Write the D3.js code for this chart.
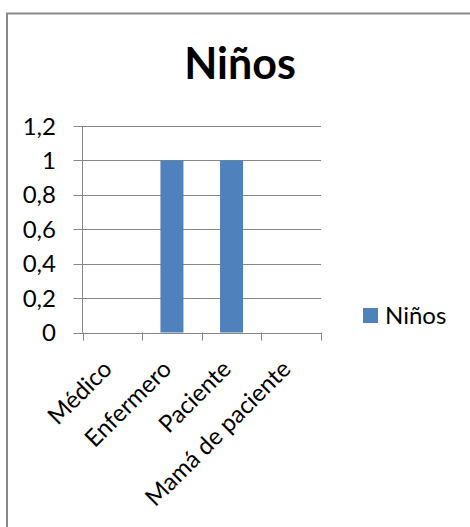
<!DOCTYPE html>
<html>
<head>
<meta charset="utf-8">
<script src="https://cdn.jsdelivr.net/npm/d3@7"></script>
<style>
  html, body { margin: 0; padding: 0; background: #fff; }
  svg { display: block; }
  text { font-family: Lato, "Open Sans", sans-serif; fill: #000; }
</style>
</head>
<body>
<svg id="chart" width="470" height="527"></svg>
<script>
// Chart data
const title = "Niños";
const seriesName = "Niños";
const categories = ["Médico", "Enfermero", "Paciente", "Mamá de paciente"];
const values = [0, 1, 1, 0];
const yTicks = [0, 0.2, 0.4, 0.6, 0.8, 1, 1.2];

const svg = d3.select("#chart");
const barColor = "#4f81bd";
const gridColor = "#868686";

// Outer chart frame
svg.append("rect")
  .attr("x", 7).attr("y", 13.5)
  .attr("width", 480).attr("height", 530)
  .attr("fill", "none").attr("stroke", "#888").attr("stroke-width", 2);

svg.append("text")
  .attr("x", 240).attr("y", 79)
  .attr("text-anchor", "middle")
  .style("font-size", "43px").style("font-weight", "bold")
  .text(title);

const plot = { left: 82.5, right: 321, top: 126, bottom: 332.5 };

const x = d3.scaleBand().domain(categories).range([plot.left, plot.right]);
const y = d3.scaleLinear().domain([0, 1.2]).range([plot.bottom, plot.top]);

// Horizontal gridlines with left tick stubs
svg.append("g").selectAll("line").data(yTicks).join("line")
  .attr("x1", plot.left - 9).attr("x2", plot.right)
  .attr("y1", d => Math.round(y(d)) + 0.5).attr("y2", d => Math.round(y(d)) + 0.5)
  .attr("stroke", gridColor).attr("stroke-width", 1);

// Value axis line
svg.append("line")
  .attr("x1", plot.left).attr("x2", plot.left)
  .attr("y1", plot.top).attr("y2", plot.bottom)
  .attr("stroke", gridColor);

// Y tick labels
const fmt = d => d3.format("~g")(d).replace(".", ",");
svg.append("g").selectAll("text").data(yTicks).join("text")
  .attr("x", 56).attr("y", d => y(d))
  .attr("dy", "0.36em")
  .attr("text-anchor", "end")
  .style("font-size", "24px")
  .text(fmt);

// Bars
const barW = x.bandwidth() * 0.386;
svg.append("g").selectAll("rect").data(categories).join("rect")
  .attr("x", d => x(d) + (x.bandwidth() - barW) / 2)
  .attr("width", barW)
  .attr("y", (d, i) => y(values[i]))
  .attr("height", (d, i) => y(0) - y(values[i]))
  .attr("fill", barColor);

// Category axis with boundary ticks
const bounds = categories.map(d => x(d)).concat([plot.right]);
svg.append("line")
  .attr("x1", plot.left).attr("x2", plot.right)
  .attr("y1", Math.round(y(0)) + 0.5).attr("y2", Math.round(y(0)) + 0.5)
  .attr("stroke", gridColor);
svg.append("g").selectAll("line").data(bounds).join("line")
  .attr("x1", d => Math.round(d) + 0.5).attr("x2", d => Math.round(d) + 0.5)
  .attr("y1", y(0)).attr("y2", y(0) + 8)
  .attr("stroke", gridColor);

// Rotated category labels
svg.append("g").selectAll("text").data(categories).join("text")
  .attr("transform", d => `translate(${x(d) + x.bandwidth() / 2 + 1},${y(0) + 38}) rotate(-45)`)
  .attr("text-anchor", "end")
  .style("font-size", "24px")
  .text(d => d);

// Legend
const lg = svg.append("g").attr("transform", "translate(363,308)");
lg.append("rect").attr("width", 15).attr("height", 15).attr("fill", barColor);
lg.append("text").attr("x", 22).attr("y", 16).style("font-size", "24px").text(seriesName);
</script>
</body>
</html>
